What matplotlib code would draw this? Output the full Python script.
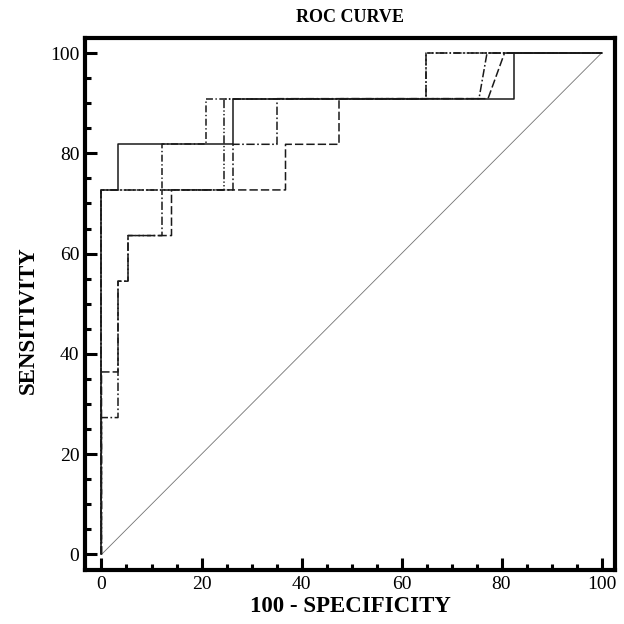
import matplotlib
matplotlib.use("Agg")
import matplotlib.pyplot as plt
from matplotlib.ticker import MultipleLocator

plt.rcParams['font.family'] = ['Liberation Serif', 'DejaVu Serif']
plt.rcParams['lines.scale_dashes'] = False

# ROC curves: (100 - specificity, sensitivity) points
solid_x = [0, 0, 3.4, 3.4, 26.3, 26.3, 82.4, 82.4, 100]
solid_y = [0, 72.7, 72.7, 81.8, 81.8, 90.9, 90.9, 100, 100]

dashed_x = [0, 0, 3.3, 3.3, 5.3, 5.3, 14.0, 14.0, 36.8, 36.8, 47.5, 47.5, 77.3, 80.6, 100]
dashed_y = [0, 36.4, 36.4, 54.5, 54.5, 63.6, 63.6, 72.7, 72.7, 81.8, 81.8, 90.9, 90.9, 100, 100]

dashdot_x = [0, 0, 3.3, 3.3, 5.3, 5.3, 12.1, 12.1, 26.3, 26.3, 35.1, 35.1, 75.5, 77.1, 100]
dashdot_y = [0, 27.3, 27.3, 54.5, 54.5, 63.6, 63.6, 72.7, 72.7, 81.8, 81.8, 90.9, 90.9, 100, 100]

dashdot2_x = [0, 0, 12.1, 12.1, 20.9, 20.9, 64.8, 64.8, 100]
dashdot2_y = [0, 72.7, 72.7, 81.8, 81.8, 90.9, 90.9, 100, 100]

dashdotdot_x = [0, 0, 24.5, 24.5, 64.8, 64.8, 100]
dashdotdot_y = [0, 72.7, 72.7, 90.9, 90.9, 100, 100]

diag = [0, 100]

x_ticks = [0, 20, 40, 60, 80, 100]
y_ticks = [0, 20, 40, 60, 80, 100]

fig = plt.figure(figsize=(6.24, 6.24), dpi=100)
ax = fig.add_axes([85/624, 1 - 569.5/624, (615 - 85)/624, (569.5 - 38)/624])

ax.plot(diag, diag, color='0.45', lw=0.6)
ax.plot(dashdotdot_x, dashdotdot_y, color='0.1', lw=1.1, dashes=(6, 1.6, 1, 1.6, 1, 1.6))
ax.plot(dashdot2_x, dashdot2_y, color='0.1', lw=1.1, dashes=(5, 1.8, 1, 1.8))
ax.plot(dashdot_x, dashdot_y, color='0.1', lw=1.1, dashes=(6, 1.8, 1.2, 1.8))
ax.plot(dashed_x, dashed_y, color='0.1', lw=1.1, dashes=(6, 2.2))
ax.plot(solid_x, solid_y, color='0.1', lw=1.1)

ax.set_xlim(-3.3, 102.7)
ax.set_ylim(-3.0, 103.0)
ax.set_xticks(x_ticks)
ax.set_yticks(y_ticks)
ax.xaxis.set_minor_locator(MultipleLocator(5))
ax.yaxis.set_minor_locator(MultipleLocator(5))
ax.tick_params(which='major', direction='in', length=8.5, width=2.2, labelsize=14, pad=5)
ax.tick_params(which='minor', direction='in', length=4.3, width=2.2)
ax.tick_params(axis='y', which='major', pad=4)
for s in ax.spines.values():
    s.set_linewidth(3.0)

fig.text(350/624, 1 - 18/624, 'ROC CURVE', ha='center', va='center', fontsize=13, fontweight='bold')
fig.text(350/624, 1 - 607/624, '100 - SPECIFICITY', ha='center', va='center', fontsize=16.5, fontweight='bold')
fig.text(28/624, 1 - 320/624, 'SENSITIVITY', ha='center', va='center', rotation=90, fontsize=16.5, fontweight='bold')

fig.savefig('out.png', dpi=100)
